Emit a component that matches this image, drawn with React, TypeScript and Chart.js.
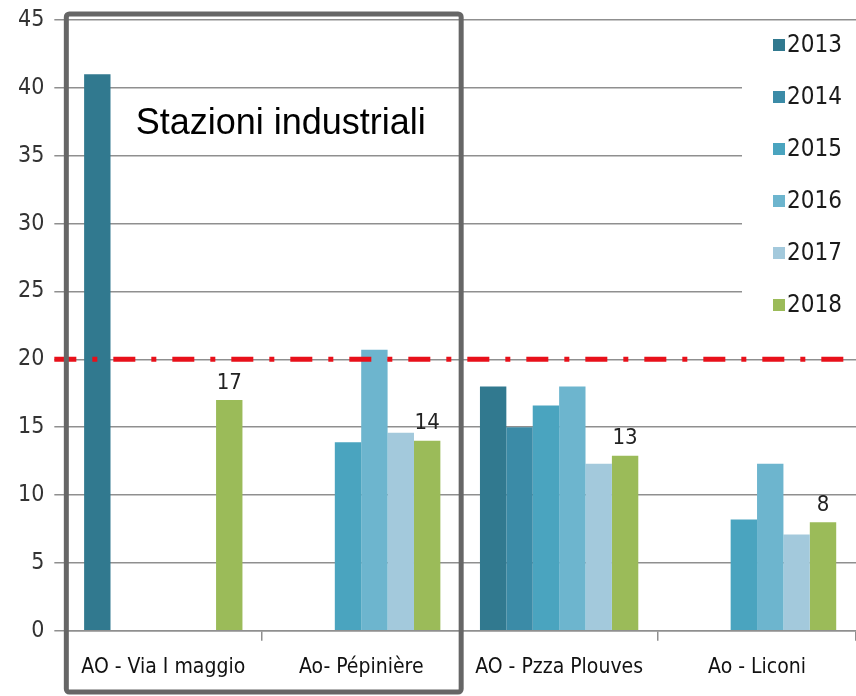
import React, { useEffect, useRef } from "react";
import { Chart, registerables } from "chart.js";

Chart.register(...registerables);

const categories = ["AO - Via I maggio", "Ao- Pépinière", "AO - Pzza Plouves", "Ao - Liconi"];
const years = ["2013", "2014", "2015", "2016", "2017", "2018"];
const values2013 = [41, null, 18, null];
const values2014 = [null, null, 15, null];
const values2015 = [null, 13.9, 16.6, 8.2];
const values2016 = [null, 20.7, 18, 12.3];
const values2017 = [null, 14.6, 12.3, 7.1];
const values2018 = [17, 14, 12.9, 8];
const labels2018 = ["17", "14", "13", "8"];
const limitValue = 20;
const yTicksMax = 45;
const yTicksStep = 5;
const boxTitle = "Stazioni industriali";

const colors = ["#31798f", "#3b8ba7", "#4aa4bf", "#6db5ce", "#a3c9dc", "#9bbb59"];
const NARROW = "'DejaVu Sans Condensed', 'Liberation Sans', sans-serif";

const overlayPlugin = {
  id: "overlay",
  beforeDatasetsDraw(chart: any) {
    const { ctx, chartArea } = chart;
    ctx.save();
    const lx = chartArea.right - 114;
    const ly = chartArea.top + 8;
    ctx.fillStyle = "#ffffff";
    ctx.fillRect(lx, ly, 120, 300);
    ctx.font = "24px " + NARROW;
    ctx.textBaseline = "middle";
    ctx.textAlign = "left";
    years.forEach((yr, i) => {
      const cy = chartArea.top + 25 + i * 52;
      ctx.fillStyle = colors[i];
      ctx.fillRect(lx + 31, cy - 6, 12, 12);
      ctx.fillStyle = "#1a1a1a";
      ctx.fillText(yr, lx + 45, cy + 1);
    });
    ctx.restore();
  },
  afterDatasetsDraw(chart: any) {
    const { ctx, chartArea, scales } = chart;
    ctx.save();
    const meta = chart.getDatasetMeta(5);
    ctx.font = "22px " + NARROW;
    ctx.fillStyle = "#222";
    ctx.textAlign = "center";
    ctx.textBaseline = "bottom";
    meta.data.forEach((el: any, i: number) => {
      ctx.fillText(labels2018[i], el.x, el.y - 6);
    });
    const y = scales.y.getPixelForValue(limitValue);
    ctx.strokeStyle = "#e8101a";
    ctx.lineWidth = 5;
    ctx.setLineDash([22, 16, 5, 16]);
    ctx.beginPath();
    ctx.moveTo(chartArea.left - 10, y);
    ctx.lineTo(chartArea.right - 6, y);
    ctx.stroke();
    ctx.setLineDash([]);
    ctx.restore();
  },
  afterDraw(chart: any) {
    const { ctx, chartArea, scales } = chart;
    ctx.save();
    const half = (scales.x.getPixelForValue(1) - scales.x.getPixelForValue(0)) / 2;
    const left = chartArea.left + 2;
    const right = scales.x.getPixelForValue(1) + half + 1;
    const top = chartArea.top - 6;
    const bottom = chart.height - 4;
    ctx.strokeStyle = "#666666";
    ctx.lineWidth = 5;
    ctx.beginPath();
    (ctx as any).roundRect(left, top, right - left, bottom - top, 3);
    ctx.stroke();
    ctx.font = "36px 'Liberation Sans', Arial, sans-serif";
    ctx.fillStyle = "#000";
    ctx.textAlign = "center";
    ctx.textBaseline = "middle";
    ctx.fillText(boxTitle, (left + right) / 2 + 17, scales.y.getPixelForValue(37.3));
    ctx.restore();
  },
};

export default function App() {
  const ref = useRef<HTMLCanvasElement>(null);
  useEffect(() => {
    if (!ref.current) return;
    const series = [values2013, values2014, values2015, values2016, values2017, values2018];
    const chart = new Chart(ref.current, {
      type: "bar",
      data: {
        labels: categories,
        datasets: series.map((d, i) => ({
          label: years[i],
          data: d as any,
          backgroundColor: colors[i],
          borderWidth: 0,
          categoryPercentage: 0.8,
          barPercentage: 1,
        })),
      },
      options: {
        animation: false,
        responsive: false,
        devicePixelRatio: 1,
        layout: { padding: { left: 8, top: 20, right: 0, bottom: 2 } },
        plugins: { legend: { display: false }, tooltip: { enabled: false } },
        scales: {
          x: {
            grid: { display: true, drawOnChartArea: false, drawTicks: true, tickLength: 10, color: "#8f8f8f", lineWidth: 1.5 },
            border: { display: true, color: "#8f8f8f", width: 1.5 },
            ticks: { font: { family: NARROW, size: 21 }, color: "#111", padding: 14, maxRotation: 0, autoSkip: false },
          },
          y: {
            min: 0,
            max: yTicksMax,
            grid: { color: "#8f8f8f", lineWidth: 1.5, tickLength: 10 },
            border: { display: false },
            ticks: { stepSize: yTicksStep, font: { family: NARROW, size: 23, lineHeight: 0.8 }, color: "#333", padding: 10 },
          },
        },
      },
      plugins: [overlayPlugin],
    });
    return () => chart.destroy();
  }, []);
  return (
    <div style={{ position: "fixed", left: 0, top: 0, width: 856, height: 696, background: "#fff" }}>
      <canvas ref={ref} width={856} height={696} />
    </div>
  );
}
